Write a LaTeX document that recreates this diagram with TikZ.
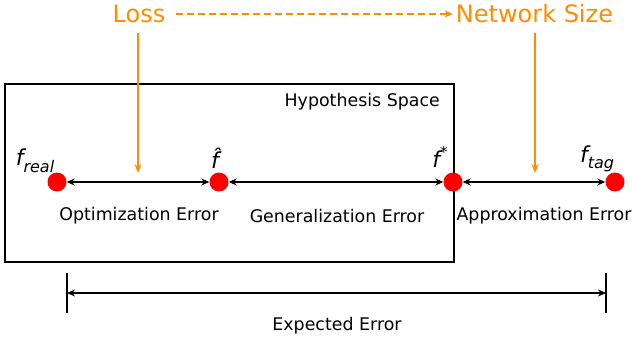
\documentclass[tikz,border=0pt]{standalone}
\usepackage{fontspec}
\setmainfont{DejaVu Sans}
\usetikzlibrary{arrows.meta}
\definecolor{orng}{RGB}{255,140,0}
\tikzset{
  dot/.style={circle,fill=red,minimum size=19pt,inner sep=0pt},
  lbl/.style={font=\fontsize{17.4}{20}\selectfont,inner sep=0pt},
  toplbl/.style={font=\fontsize{24}{28}\selectfont,text=orng,inner sep=0pt},
  fl/.style={font=\fontsize{22}{26}\selectfont\itshape,inner sep=0pt},
  dbl/.style={line width=2pt,{Stealth[length=8pt,width=7pt]}-{Stealth[length=8pt,width=7pt]}},
  oarr/.style={orng,line width=2pt,-{Stealth[length=9pt,width=7pt]}},
}
\newcommand{\subtx}[1]{\raisebox{-0.3em}{\fontsize{16}{18}\selectfont #1}}
\begin{document}
\begin{tikzpicture}[x=1pt,y=-1pt]
\useasboundingbox (0,0) rectangle (633,343);
% hypothesis box
\node (hspace) [draw,line width=2pt,minimum width=449pt,minimum height=178pt,inner sep=0pt] at (229.5,173) {};
\node (htitle) [lbl,anchor=east] at (440,102) {Hypothesis Space};
% dots
\node (freal) [dot] at (57,182) {};
\node (fhat) [dot] at (219,182) {};
\node (fstar) [dot] at (453,182) {};
\node (ftag) [dot] at (615,182) {};
% f labels
\node (lreal) [fl] at (35,161) {f\subtx{real}};
\node (lhat) [fl] at (215,158) {\^{f}};
\node (lstar) [fl] at (440,157) {f\raisebox{0.42em}{\fontsize{15}{18}\selectfont\upshape *}};
\node (ltag) [fl] at (597,159) {f\subtx{tag}};
% arrows between dots
\draw[dbl] (freal) -- (fhat);
\draw[dbl] (fhat) -- (fstar);
\draw[dbl] (fstar) -- (ftag);
% error labels
\node (optl) [lbl] at (139,216) {Optimization Error};
\node (genl) [lbl] at (337,216) {Generalization Error};
\node (appl) [lbl] at (544,216) {Approximation Error};
% top
\node (loss) [toplbl] at (139,14) {Loss};
\node (net) [toplbl] at (534.5,14) {Network Size};
\draw[orng,line width=1.8pt,dash pattern=on 7pt off 4pt,-{Stealth[length=8pt,width=7pt]}] ([xshift=10pt]loss.east) -- ([xshift=-3pt]net.west);
\coordinate (lossend) at (138,173);
\coordinate (netend) at (535,173);
\draw[oarr] (138,33) -- (lossend);
\draw[oarr] (535,33) -- (netend);
% expected error
\coordinate (el) at (67,293);
\coordinate (er) at (606,293);
\draw[line width=1.4pt] ([yshift=-20pt]el) -- ([yshift=20pt]el);
\draw[line width=1.4pt] ([yshift=-20pt]er) -- ([yshift=20pt]er);
\draw[dbl] (el) -- (er);
\node (expl) [lbl] at (337,326) {Expected Error};
\end{tikzpicture}
\end{document}
